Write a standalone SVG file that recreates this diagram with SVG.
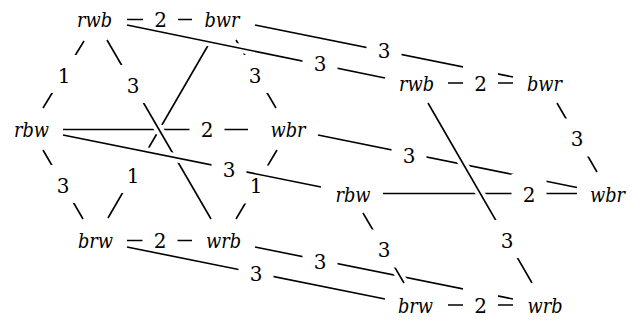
<svg xmlns="http://www.w3.org/2000/svg" width="632" height="323" viewBox="0 0 632 323">
<style>
.c line{stroke:#000;stroke-width:1.6;fill:none}
.c line.h{stroke:#fff;stroke-width:9}
.c rect{fill:#fff;stroke:none}
.lt{font-family:'DejaVu Serif',serif;font-size:20px;fill:#000;text-anchor:middle}
.nt{font-family:'DejaVu Serif',serif;font-style:italic;font-size:20px;fill:#000;text-anchor:middle}
</style>
<rect width="632" height="323" fill="#fff"/>
<g id="connectors" class="c">
<line x1="127" y1="19.5" x2="192" y2="19.5"/>
<line x1="84" y1="41" x2="43" y2="108"/>
<line x1="236" y1="40" x2="276" y2="108"/>
<line x1="210" y1="42" x2="108" y2="218"/>
<line x1="43" y1="150" x2="83" y2="219"/>
<line x1="277" y1="150" x2="236" y2="219"/>
<line x1="127" y1="240.5" x2="192" y2="240.5"/>
<line x1="448" y1="83" x2="513" y2="83"/>
<line x1="557" y1="103" x2="597" y2="172"/>
<line x1="383" y1="193.5" x2="577" y2="193.5"/>
<line x1="448" y1="305" x2="513" y2="305"/>
<line x1="255" y1="25" x2="513" y2="77"/>
<line x1="318" y1="135" x2="577" y2="187.5"/>
<line x1="255" y1="247" x2="513" y2="299"/>
<rect x="143" y="-0.5" width="35" height="38"/>
<rect x="46.5" y="55" width="35" height="38"/>
<rect x="237.5" y="55" width="35" height="38"/>
<rect x="115.5" y="155" width="35" height="38"/>
<rect x="45.5" y="165" width="35" height="38"/>
<rect x="238.5" y="165.5" width="35" height="38"/>
<rect x="142.5" y="220.5" width="35" height="38"/>
<rect x="463" y="63" width="35" height="38"/>
<rect x="559.5" y="118.5" width="35" height="38"/>
<rect x="511.5" y="174" width="35" height="38"/>
<rect x="463" y="285" width="35" height="38"/>
<rect x="366.5" y="30.5" width="35" height="38"/>
<rect x="391.5" y="135" width="35" height="38"/>
<rect x="302.5" y="241.5" width="35" height="38"/>
<line x1="127" y1="247" x2="385" y2="299"/>
<rect x="238.5" y="253.5" width="35" height="38"/>
<line class="h" x1="63" y1="129.5" x2="248" y2="129.5"/>
<line x1="63" y1="129.5" x2="248" y2="129.5"/>
<rect x="189.5" y="109.5" width="35" height="38"/>
<line class="h" x1="107" y1="40" x2="211" y2="219"/>
<line x1="107" y1="40" x2="211" y2="219"/>
<rect x="115.5" y="65" width="35" height="38"/>
<line class="h" x1="63" y1="135" x2="321" y2="187"/>
<line x1="63" y1="135" x2="321" y2="187"/>
<rect x="211.5" y="149.5" width="35" height="38"/>
<line class="h" x1="127" y1="25" x2="385" y2="78"/>
<line x1="127" y1="25" x2="385" y2="78"/>
<rect x="302.5" y="43.5" width="35" height="38"/>
<line class="h" x1="428" y1="103" x2="532" y2="283"/>
<line x1="428" y1="103" x2="532" y2="283"/>
<rect x="489.5" y="220" width="35" height="38"/>
<line class="h" x1="363" y1="213" x2="404" y2="283"/>
<line x1="363" y1="213" x2="404" y2="283"/>
<rect x="366.5" y="229.5" width="35" height="38"/>
<text class="lt" x="160.5" y="27">2</text>
<text class="lt" x="64" y="82.5">1</text>
<text class="lt" x="255" y="82.5">3</text>
<text class="lt" x="133" y="182.5">1</text>
<text class="lt" x="63" y="192.5">3</text>
<text class="lt" x="256" y="193">1</text>
<text class="lt" x="160" y="248">2</text>
<text class="lt" x="480.5" y="90.5">2</text>
<text class="lt" x="577" y="146">3</text>
<text class="lt" x="529" y="201.5">2</text>
<text class="lt" x="480.5" y="312.5">2</text>
<text class="lt" x="384" y="58">3</text>
<text class="lt" x="409" y="162.5">3</text>
<text class="lt" x="320" y="269">3</text>
<text class="lt" x="256" y="281">3</text>
<text class="lt" x="207" y="137">2</text>
<text class="lt" x="133" y="92.5">3</text>
<text class="lt" x="229" y="177">3</text>
<text class="lt" x="320" y="71">3</text>
<text class="lt" x="507" y="247.5">3</text>
<text class="lt" x="384" y="257">3</text>
</g>
<g id="L-rwb"><text class="nt" x="94.5" y="27" textLength="35" lengthAdjust="spacingAndGlyphs">rwb</text></g>
<g id="L-bwr"><text class="nt" x="222" y="27" textLength="35" lengthAdjust="spacingAndGlyphs">bwr</text></g>
<g id="L-rbw"><text class="nt" x="31.5" y="137" textLength="35" lengthAdjust="spacingAndGlyphs">rbw</text></g>
<g id="L-wbr"><text class="nt" x="288" y="137" textLength="35" lengthAdjust="spacingAndGlyphs">wbr</text></g>
<g id="L-brw"><text class="nt" x="95.5" y="248" textLength="35" lengthAdjust="spacingAndGlyphs">brw</text></g>
<g id="L-wrb"><text class="nt" x="223.5" y="248" textLength="35" lengthAdjust="spacingAndGlyphs">wrb</text></g>
<g id="R-rwb"><text class="nt" x="416.5" y="90.5" textLength="35" lengthAdjust="spacingAndGlyphs">rwb</text></g>
<g id="R-bwr"><text class="nt" x="544.5" y="90.5" textLength="35" lengthAdjust="spacingAndGlyphs">bwr</text></g>
<g id="R-rbw"><text class="nt" x="353" y="201.5" textLength="35" lengthAdjust="spacingAndGlyphs">rbw</text></g>
<g id="R-wbr"><text class="nt" x="607.5" y="201.5" textLength="35" lengthAdjust="spacingAndGlyphs">wbr</text></g>
<g id="R-brw"><text class="nt" x="415.5" y="312.5" textLength="35" lengthAdjust="spacingAndGlyphs">brw</text></g>
<g id="R-wrb"><text class="nt" x="545" y="312.5" textLength="35" lengthAdjust="spacingAndGlyphs">wrb</text></g>
</svg>
